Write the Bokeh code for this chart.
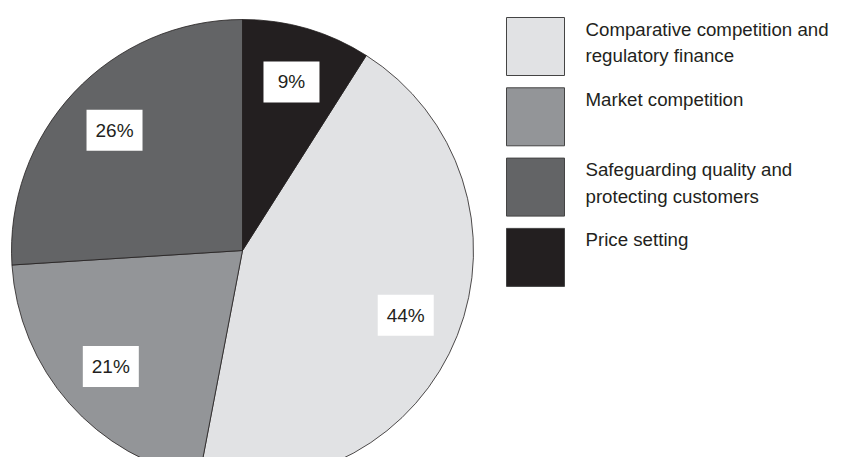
import math
from bokeh.plotting import figure
from bokeh.models import Range1d, ColumnDataSource
from bokeh.core.properties import value
from bokeh.embed import file_html
from bokeh.resources import INLINE

# ---- data (legend order) ----
categories = [
    "Comparative competition and\nregulatory finance",
    "Market competition",
    "Safeguarding quality and\nprotecting customers",
    "Price setting",
]
shares = [44, 21, 26, 9]
colors = ["#e1e2e4", "#939598", "#636466", "#231f20"]

W, H = 829, 457
FONT = "Liberation Sans"
TXT = "#231f20"

p = figure(width=W, height=H, output_backend="svg", toolbar_location=None,
           x_range=Range1d(0, W), y_range=Range1d(0, H), min_border=0)
p.axis.visible = False
p.grid.visible = False
p.outline_line_color = None
p.background_fill_color = "white"
p.border_fill_color = "white"

# pie geometry (screen-like coords: y measured from top)
cx, cy, R = 242, H - 250, 231
total = float(sum(shares))
start0 = math.pi / 2 - shares[-1] / total * 2 * math.pi  # last slice ends at 12 o'clock
starts, ends, mids = [], [], []
acc = 0.0
for s in shares:
    a0 = start0 - acc / total * 2 * math.pi
    acc += s
    a1 = start0 - acc / total * 2 * math.pi
    starts.append(a0)
    ends.append(a1)
    mids.append((a0 + a1) / 2)

src = ColumnDataSource(dict(start=starts, end=ends, color=colors))
p.wedge(x=cx, y=cy, radius=R, start_angle="start", end_angle="end",
        direction="clock", fill_color="color", line_color="#231f20",
        line_width=0.8, source=src)

# percentage labels in white boxes
lr = 0.76 * R
lx = [cx + lr * math.cos(m) for m in mids]
ly = [cy + lr * math.sin(m) for m in mids]
ltxt = [f"{s}%" for s in shares]
lsrc = ColumnDataSource(dict(x=lx, y=ly, t=ltxt))
p.rect(x="x", y="y", width=56, height=41, fill_color="white",
       line_color=None, source=lsrc)
p.text(x="x", y="y", text="t", text_align="center", text_baseline="middle",
       text_font=value(FONT), text_font_size="19px", text_color=TXT, source=lsrc)

# legend
box_x0, box_w, box_h = 506, 58, 58
top0, step = 17, 70.3
for i, (cat, col) in enumerate(zip(categories, colors)):
    top = top0 + i * step
    p.rect(x=box_x0 + box_w / 2, y=H - (top + box_h / 2), width=box_w,
           height=box_h, fill_color=col, line_color="#444444", line_width=1)
    for j, line in enumerate(cat.split("\n")):
        p.text(x=[585], y=[H - (top + 11.5 + j * 26.5)], text=[line],
               text_align="left", text_baseline="middle",
               text_font=value(FONT), text_font_size="18.7px", text_color=TXT)

open("out.html", "w").write(file_html(p, INLINE))
